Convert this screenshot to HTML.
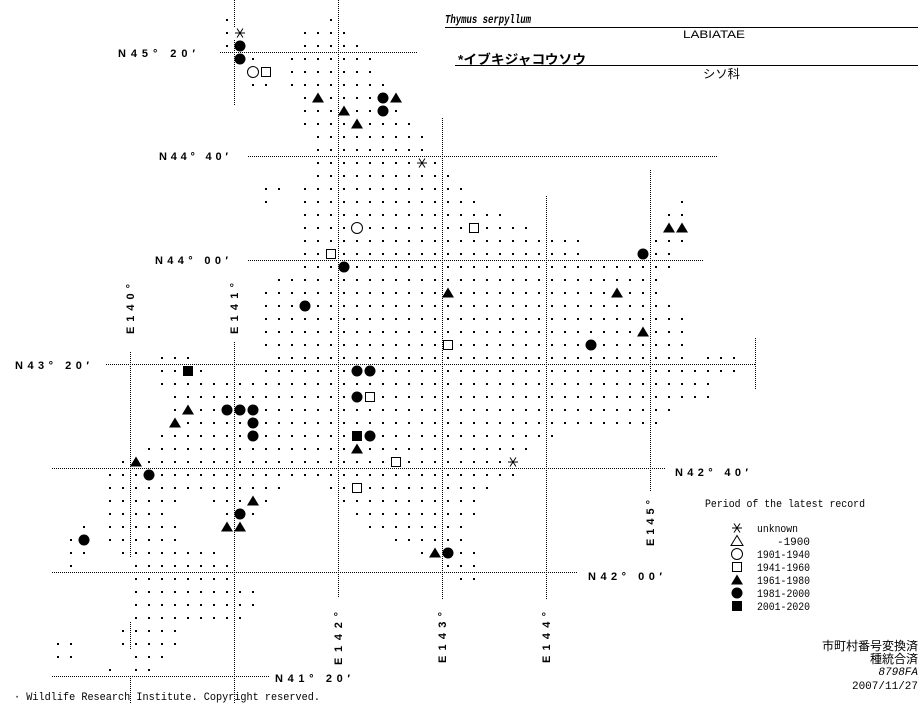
<!DOCTYPE html>
<html><head><meta charset="utf-8"><style>
html,body{margin:0;padding:0;background:#fff;}
svg{display:block;}
.d{fill:url(#dp);}
.lb{font-family:"Liberation Sans",sans-serif;font-weight:bold;font-size:11px;fill:#000;}
.mo{font-family:"Liberation Mono","Noto Sans CJK JP",monospace;font-size:11px;fill:#000;}
.jp{font-family:"Liberation Sans","Noto Sans CJK JP",sans-serif;font-size:12px;fill:#000;}
</style></head><body>
<svg width="923" height="703" viewBox="0 0 923 703" xmlns="http://www.w3.org/2000/svg">
<defs>
<pattern id="dp" patternUnits="userSpaceOnUse" x="0" y="0" width="13" height="13"><rect x="5" y="6" width="2" height="2" fill="#000"/></pattern>
<g id="ci"><circle cx="0" cy="0" r="5.5" fill="#000"/></g>
<g id="oc"><circle cx="0" cy="0" r="5.5" fill="#fff" stroke="#000" stroke-width="1"/></g>
<g id="os"><rect x="-4.5" y="-4.5" width="9" height="9" fill="#fff" stroke="#000" stroke-width="1"/></g>
<g id="fs"><rect x="-5" y="-5" width="10" height="10" fill="#000"/></g>
<g id="tr"><polygon points="0,-5.5 -6,4.5 6,4.5" fill="#000"/></g>
<g id="ot"><polygon points="0,-5.5 -6,4.5 6,4.5" fill="#fff" stroke="#000" stroke-width="1"/></g>
<g id="as"><rect x="-6" y="-6" width="12" height="12" fill="#fff"/><g stroke="#000" stroke-width="1"><line x1="-5" y1="0" x2="5" y2="0"/><line x1="-3" y1="-4.5" x2="3" y2="4.5"/><line x1="3" y1="-4.5" x2="-3" y2="4.5"/></g></g>
</defs>

<!-- dotted grid lines -->
<g stroke="#000" stroke-width="1" stroke-dasharray="1 1" fill="none">
<line x1="220" y1="52.5" x2="417" y2="52.5"/>
<line x1="248" y1="156.5" x2="718" y2="156.5"/>
<line x1="248" y1="260.5" x2="703" y2="260.5"/>
<line x1="106" y1="364.5" x2="755" y2="364.5"/>
<line x1="52" y1="468.5" x2="666" y2="468.5"/>
<line x1="52" y1="572.5" x2="578" y2="572.5"/>
<line x1="52" y1="676.5" x2="270" y2="676.5"/>
<line x1="234.5" y1="0" x2="234.5" y2="105"/>
<line x1="234.5" y1="342" x2="234.5" y2="703"/>
<line x1="130.5" y1="352" x2="130.5" y2="558"/>
<line x1="130.5" y1="622" x2="130.5" y2="650"/>
<line x1="130.5" y1="676" x2="130.5" y2="703"/>
<line x1="338.5" y1="0" x2="338.5" y2="598"/>
<line x1="442.5" y1="118" x2="442.5" y2="600"/>
<line x1="546.5" y1="196" x2="546.5" y2="600"/>
<line x1="650.5" y1="170" x2="650.5" y2="492"/>
<line x1="755.5" y1="338" x2="755.5" y2="390"/>
</g>

<!-- dot grid rows -->
<g>
<rect class="d" x="221" y="13" width="13" height="13"/><rect class="d" x="325" y="13" width="13" height="13"/>
<rect class="d" x="221" y="26" width="13" height="13"/><rect class="d" x="299" y="26" width="52" height="13"/>
<rect class="d" x="221" y="39" width="13" height="13"/><rect class="d" x="299" y="39" width="65" height="13"/>
<rect class="d" x="247" y="52" width="13" height="13"/><rect class="d" x="286" y="52" width="91" height="13"/>
<rect class="d" x="286" y="65" width="91" height="13"/>
<rect class="d" x="247" y="78" width="26" height="13"/><rect class="d" x="286" y="78" width="104" height="13"/>
<rect class="d" x="299" y="91" width="104" height="13"/>
<rect class="d" x="299" y="104" width="104" height="13"/>
<rect class="d" x="299" y="117" width="117" height="13"/>
<rect class="d" x="312" y="130" width="117" height="13"/>
<rect class="d" x="312" y="143" width="117" height="13"/>
<rect class="d" x="312" y="156" width="130" height="13"/>
<rect class="d" x="312" y="169" width="143" height="13"/>
<rect class="d" x="260" y="182" width="26" height="13"/><rect class="d" x="299" y="182" width="169" height="13"/>
<rect class="d" x="260" y="195" width="13" height="13"/><rect class="d" x="299" y="195" width="182" height="13"/><rect class="d" x="676" y="195" width="13" height="13"/>
<rect class="d" x="299" y="208" width="208" height="13"/><rect class="d" x="663" y="208" width="26" height="13"/>
<rect class="d" x="299" y="221" width="234" height="13"/>
<rect class="d" x="299" y="234" width="286" height="13"/><rect class="d" x="650" y="234" width="39" height="13"/>
<rect class="d" x="299" y="247" width="286" height="13"/><rect class="d" x="650" y="247" width="26" height="13"/>
<rect class="d" x="299" y="260" width="377" height="13"/>
<rect class="d" x="273" y="273" width="390" height="13"/>
<rect class="d" x="260" y="286" width="403" height="13"/>
<rect class="d" x="260" y="299" width="416" height="13"/>
<rect class="d" x="260" y="312" width="429" height="13"/>
<rect class="d" x="260" y="325" width="429" height="13"/>
<rect class="d" x="260" y="338" width="429" height="13"/>
<rect class="d" x="156" y="351" width="39" height="13"/><rect class="d" x="273" y="351" width="416" height="13"/><rect class="d" x="702" y="351" width="39" height="13"/>
<rect class="d" x="156" y="364" width="52" height="13"/><rect class="d" x="260" y="364" width="481" height="13"/>
<rect class="d" x="156" y="377" width="559" height="13"/>
<rect class="d" x="169" y="390" width="546" height="13"/>
<rect class="d" x="169" y="403" width="507" height="13"/>
<rect class="d" x="169" y="416" width="494" height="13"/>
<rect class="d" x="156" y="429" width="403" height="13"/>
<rect class="d" x="143" y="442" width="390" height="13"/>
<rect class="d" x="117" y="455" width="403" height="13"/>
<rect class="d" x="104" y="468" width="416" height="13"/>
<rect class="d" x="104" y="481" width="182" height="13"/><rect class="d" x="325" y="481" width="169" height="13"/>
<rect class="d" x="104" y="494" width="78" height="13"/><rect class="d" x="208" y="494" width="65" height="13"/><rect class="d" x="338" y="494" width="143" height="13"/>
<rect class="d" x="104" y="507" width="65" height="13"/><rect class="d" x="221" y="507" width="39" height="13"/><rect class="d" x="351" y="507" width="130" height="13"/>
<rect class="d" x="78" y="520" width="13" height="13"/><rect class="d" x="104" y="520" width="78" height="13"/><rect class="d" x="221" y="520" width="26" height="13"/><rect class="d" x="364" y="520" width="104" height="13"/>
<rect class="d" x="65" y="533" width="26" height="13"/><rect class="d" x="104" y="533" width="78" height="13"/><rect class="d" x="390" y="533" width="78" height="13"/>
<rect class="d" x="65" y="546" width="26" height="13"/><rect class="d" x="117" y="546" width="104" height="13"/><rect class="d" x="416" y="546" width="65" height="13"/>
<rect class="d" x="65" y="559" width="13" height="13"/><rect class="d" x="130" y="559" width="104" height="13"/><rect class="d" x="442" y="559" width="39" height="13"/>
<rect class="d" x="130" y="572" width="104" height="13"/><rect class="d" x="455" y="572" width="26" height="13"/>
<rect class="d" x="130" y="585" width="130" height="13"/>
<rect class="d" x="130" y="598" width="130" height="13"/>
<rect class="d" x="130" y="611" width="117" height="13"/>
<rect class="d" x="117" y="624" width="65" height="13"/>
<rect class="d" x="52" y="637" width="26" height="13"/><rect class="d" x="117" y="637" width="65" height="13"/>
<rect class="d" x="52" y="650" width="26" height="13"/><rect class="d" x="130" y="650" width="39" height="13"/>
<rect class="d" x="104" y="663" width="13" height="13"/><rect class="d" x="130" y="663" width="26" height="13"/>
</g>

<!-- markers -->
<use href="#as" x="240" y="33"/><use href="#as" x="422" y="163"/><use href="#as" x="513" y="462"/>
<use href="#ci" x="240" y="46"/><use href="#ci" x="240" y="59"/><use href="#ci" x="383" y="98"/><use href="#ci" x="383" y="111"/>
<use href="#ci" x="344" y="267"/><use href="#ci" x="305" y="306"/><use href="#ci" x="643" y="254"/><use href="#ci" x="591" y="345"/>
<use href="#ci" x="357" y="371"/><use href="#ci" x="370" y="371"/><use href="#ci" x="227" y="410"/><use href="#ci" x="240" y="410"/>
<use href="#ci" x="253" y="410"/><use href="#ci" x="253" y="423"/><use href="#ci" x="253" y="436"/><use href="#ci" x="357" y="397"/>
<use href="#ci" x="370" y="436"/><use href="#ci" x="149" y="475"/><use href="#ci" x="240" y="514"/><use href="#ci" x="448" y="553"/><use href="#ci" x="84" y="540"/>
<use href="#oc" x="253" y="72"/><use href="#oc" x="357" y="228"/>
<use href="#os" x="266" y="72"/><use href="#os" x="474" y="228"/><use href="#os" x="331" y="254"/><use href="#os" x="448" y="345"/>
<use href="#os" x="370" y="397"/><use href="#os" x="396" y="462"/><use href="#os" x="357" y="488"/>
<use href="#tr" x="318" y="98"/><use href="#tr" x="396" y="98"/><use href="#tr" x="344" y="111"/><use href="#tr" x="357" y="124"/>
<use href="#tr" x="669" y="228"/><use href="#tr" x="682" y="228"/><use href="#tr" x="448" y="293"/><use href="#tr" x="617" y="293"/>
<use href="#tr" x="643" y="332"/><use href="#tr" x="188" y="410"/><use href="#tr" x="175" y="423"/><use href="#tr" x="357" y="449"/>
<use href="#tr" x="136" y="462"/><use href="#tr" x="253" y="501"/><use href="#tr" x="227" y="527"/><use href="#tr" x="240" y="527"/><use href="#tr" x="435" y="553"/>
<use href="#fs" x="188" y="371"/><use href="#fs" x="357" y="436"/>

<!-- axis labels -->
<text class="lb" x="118" y="57" textLength="77" lengthAdjust="spacing">N45° 20′</text>
<text class="lb" x="159" y="160" textLength="69" lengthAdjust="spacing">N44° 40′</text>
<text class="lb" x="155" y="264" textLength="73" lengthAdjust="spacing">N44° 00′</text>
<text class="lb" x="15" y="369" textLength="74" lengthAdjust="spacing">N43° 20′</text>
<text class="lb" x="675" y="476" textLength="73" lengthAdjust="spacing">N42° 40′</text>
<text class="lb" x="588" y="580" textLength="74" lengthAdjust="spacing">N42° 00′</text>
<text class="lb" x="275" y="682" textLength="75" lengthAdjust="spacing">N41° 20′</text>
<text class="lb" transform="translate(134,334) rotate(-90)" textLength="50" lengthAdjust="spacing">E140°</text>
<text class="lb" transform="translate(238,334) rotate(-90)" textLength="51" lengthAdjust="spacing">E141°</text>
<text class="lb" transform="translate(342,665) rotate(-90)" textLength="53" lengthAdjust="spacing">E142°</text>
<text class="lb" transform="translate(446,663) rotate(-90)" textLength="51" lengthAdjust="spacing">E143°</text>
<text class="lb" transform="translate(550,663) rotate(-90)" textLength="51" lengthAdjust="spacing">E144°</text>
<text class="lb" transform="translate(654,546) rotate(-90)" textLength="46" lengthAdjust="spacing">E145°</text>

<!-- title -->
<text x="445" y="23" font-family="Liberation Mono,monospace" font-weight="bold" font-style="italic" font-size="12" textLength="86" lengthAdjust="spacingAndGlyphs">Thymus serpyllum</text>
<line x1="445" y1="27.5" x2="918" y2="27.5" stroke="#000"/>
<text x="683" y="38" font-family="Liberation Sans,sans-serif" font-size="11" textLength="62" lengthAdjust="spacingAndGlyphs">LABIATAE</text>
<text x="458" y="64" font-family="Liberation Sans,'Noto Sans CJK JP',sans-serif" font-weight="bold" font-size="13" textLength="128" lengthAdjust="spacingAndGlyphs">*イブキジャコウソウ</text>
<line x1="455" y1="65.5" x2="918" y2="65.5" stroke="#000"/>
<text x="703" y="78" class="jp" textLength="37" lengthAdjust="spacingAndGlyphs">シソ科</text>

<!-- legend -->
<text class="mo" x="705" y="507" textLength="160" lengthAdjust="spacingAndGlyphs">Period of the latest record</text>
<use href="#as" x="737" y="528"/>
<use href="#ot" x="737" y="541"/>
<use href="#oc" x="737" y="554"/>
<use href="#os" x="737" y="567"/>
<use href="#tr" x="737" y="580"/>
<use href="#ci" x="737" y="593"/>
<use href="#fs" x="737" y="606"/>
<text class="mo" x="757" y="532" textLength="41" lengthAdjust="spacingAndGlyphs">unknown</text>
<text class="mo" x="810" y="545" text-anchor="end">-1900</text>
<text class="mo" x="757" y="558" textLength="53" lengthAdjust="spacingAndGlyphs">1901-1940</text>
<text class="mo" x="757" y="571" textLength="53" lengthAdjust="spacingAndGlyphs">1941-1960</text>
<text class="mo" x="757" y="584" textLength="53" lengthAdjust="spacingAndGlyphs">1961-1980</text>
<text class="mo" x="757" y="597" textLength="53" lengthAdjust="spacingAndGlyphs">1981-2000</text>
<text class="mo" x="757" y="610" textLength="53" lengthAdjust="spacingAndGlyphs">2001-2020</text>

<text class="jp" x="918" y="650" text-anchor="end">市町村番号変換済</text>
<text class="jp" x="918" y="663" text-anchor="end">種統合済</text>
<text class="mo" x="918" y="675" text-anchor="end" font-style="italic">8798FA</text>
<text class="mo" x="918" y="689" text-anchor="end">2007/11/27</text>

<text class="mo" x="14" y="700" textLength="306" lengthAdjust="spacingAndGlyphs">· Wildlife Research Institute. Copyright reserved.</text>
</svg>
</body></html>
